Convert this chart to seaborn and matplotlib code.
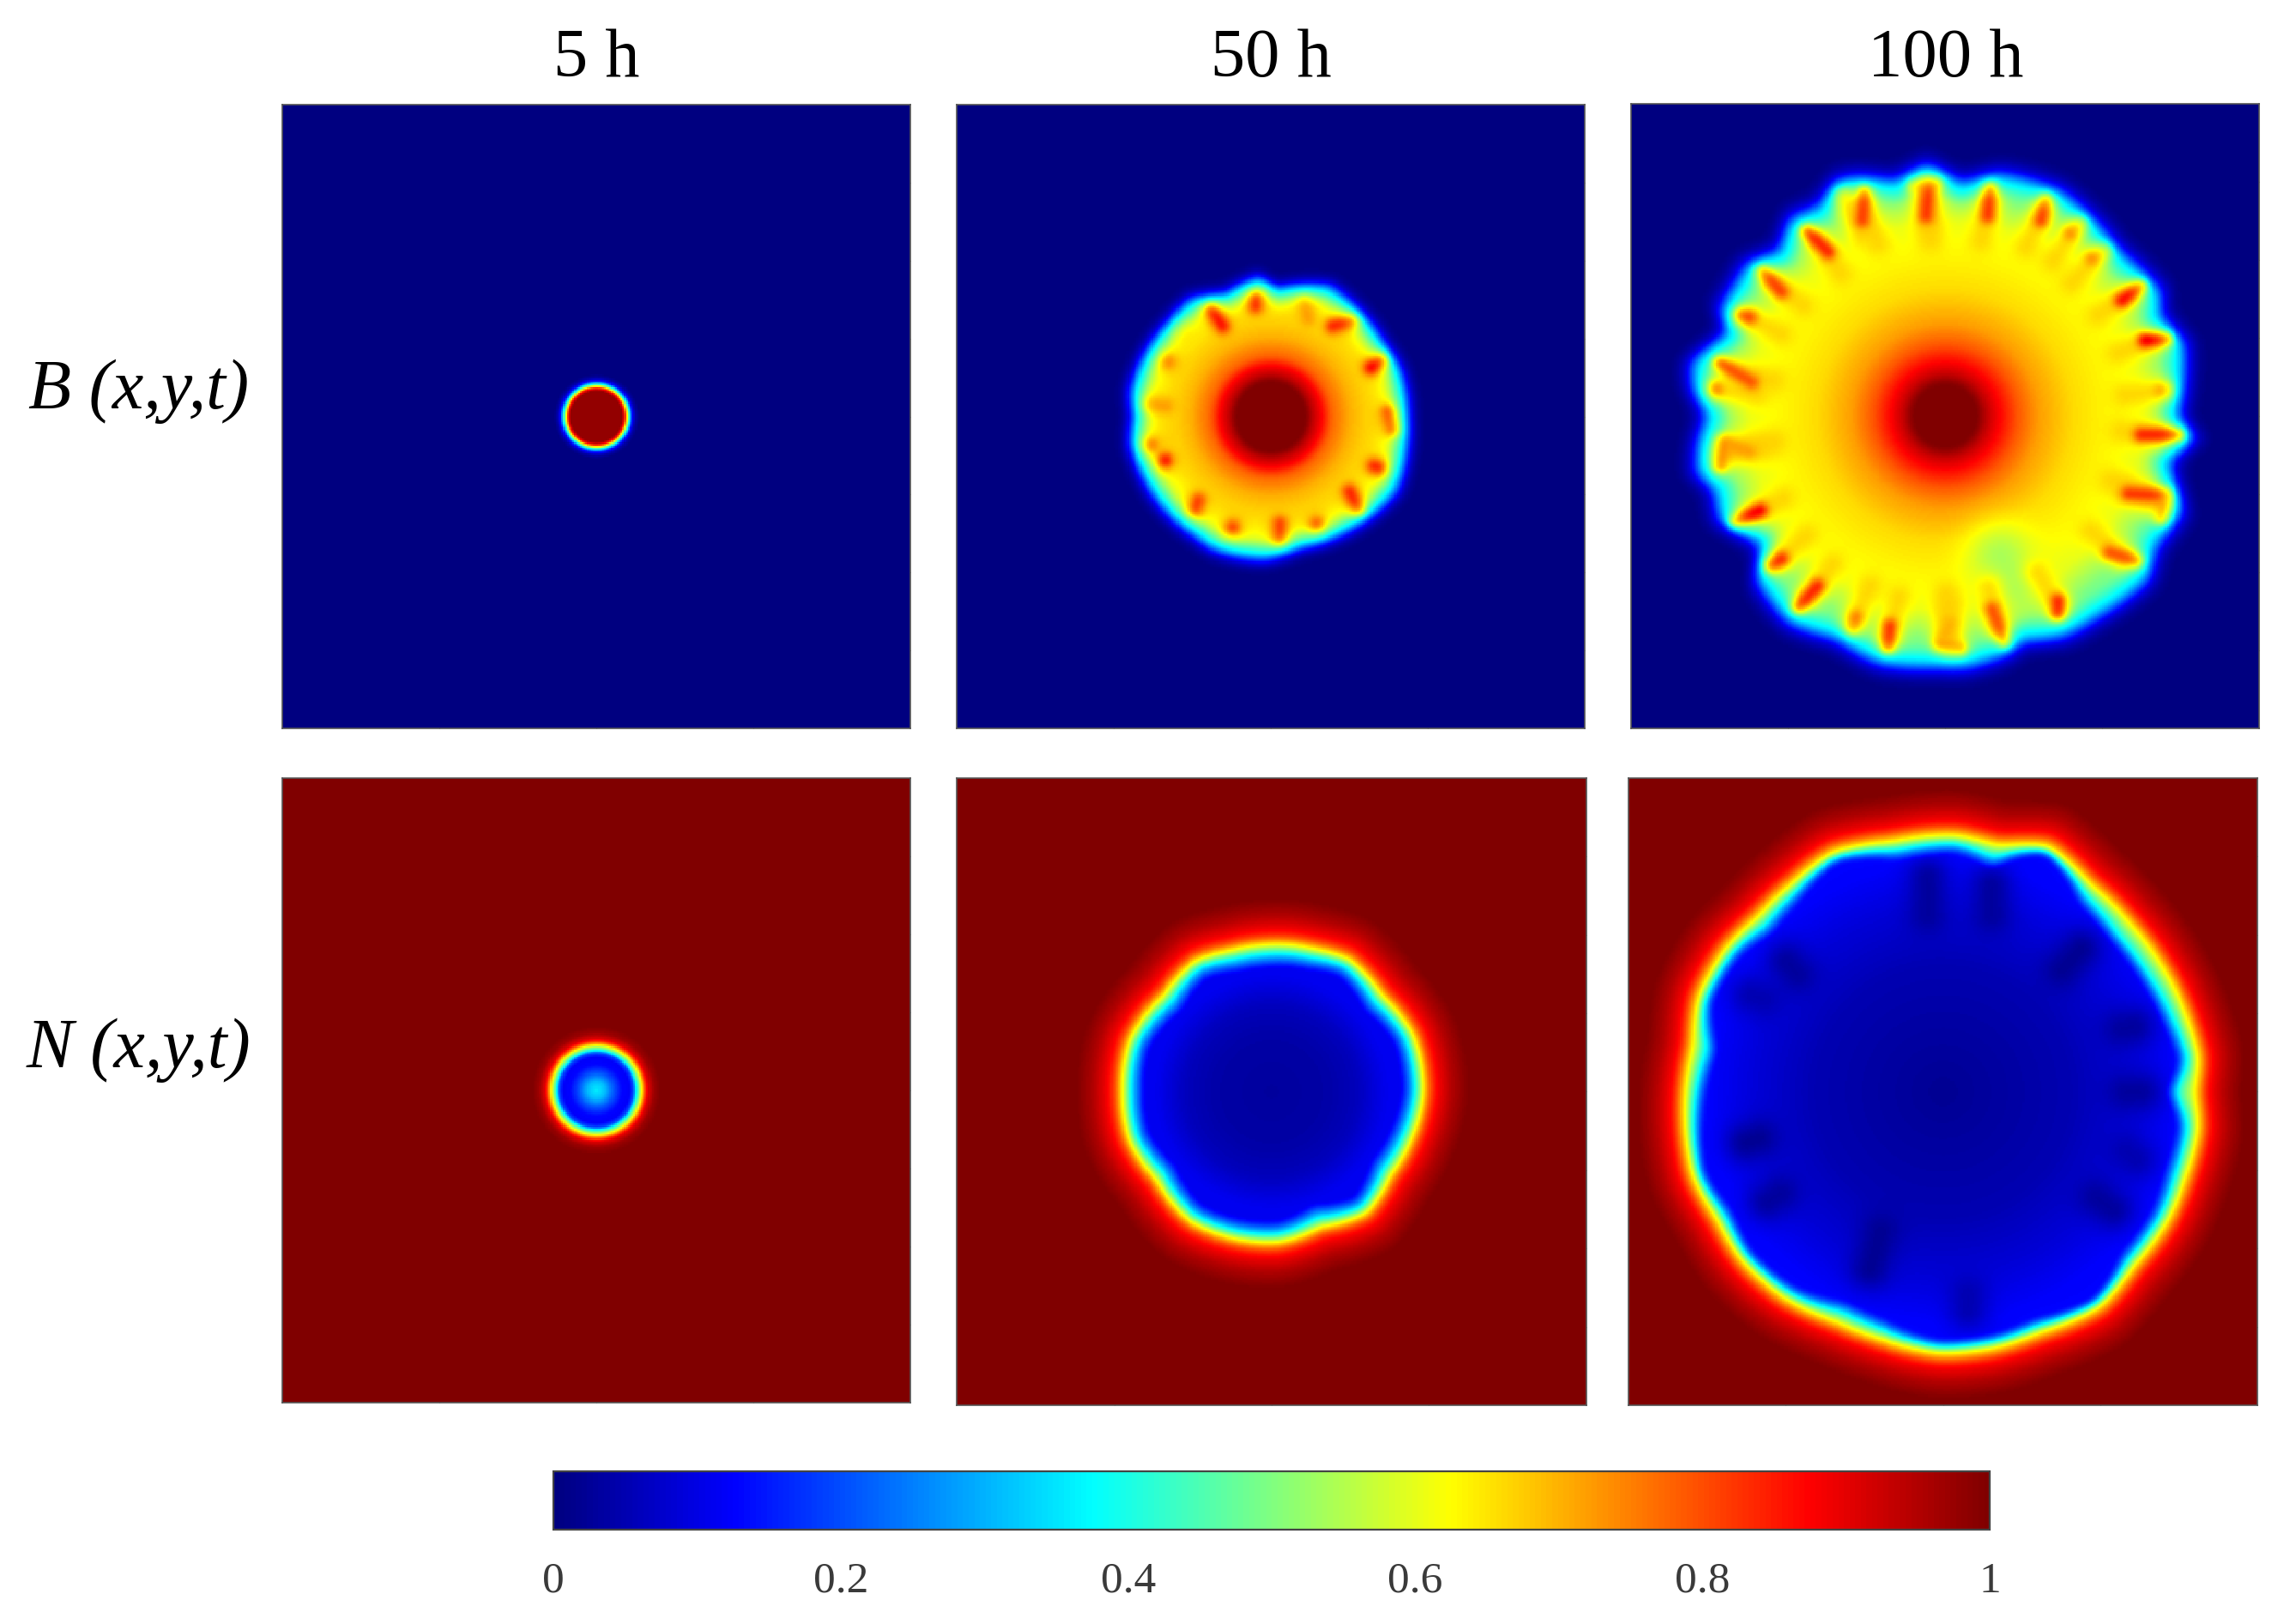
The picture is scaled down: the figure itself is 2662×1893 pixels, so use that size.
import numpy as np
import matplotlib
matplotlib.use("Agg")
import matplotlib.pyplot as plt
from matplotlib.colors import LinearSegmentedColormap
import seaborn as sns

# ---------- text ----------
column_titles = ["5 h", "50 h", "100 h"]
row_labels = ["B (x,y,t)", "N (x,y,t)"]
cbar_ticks = [0, 0.2, 0.4, 0.6, 0.8, 1]
cbar_ticklabels = ["0", "0.2", "0.4", "0.6", "0.8", "1"]

# ---------- colour scale stops ----------
jet_pos = [0, 0.125, 0.375, 0.625, 0.875, 1]
jet_col = [(0, 0, .5), (0, 0, 1), (0, 1, 1), (1, 1, 0), (1, 0, 0), (.5, 0, 0)]

# ---------- 5 h panels: radial profiles (radius as fraction of half panel) ----------
b5_r = [0, 0.082, 0.090, 0.097, 0.105, 0.114, 0.124, 0.136, 1.5]
b5_v = [0.98, 0.98, 0.87, 0.63, 0.38, 0.14, 0.04, 0.0, 0.0]
n5_px = [0, 30, 60, 90, 115, 130, 140, 150, 158, 170, 180, 200, 225, 2000]
n5_v = [0.36, 0.31, 0.21, 0.13, 0.12, 0.20, 0.38, 0.52, 0.63, 0.80, 0.90, 0.97, 1.0, 1.0]

# ---------- 50 h B: front contour (angle deg, radius in px of crop) ----------
b50_ang = [0, 20, 34, 50, 66, 87, 95, 110, 124, 138, 154, 170, 180, 191, 204, 223, 238, 246, 268, 283, 299, 314, 329, 346]
b50_rad = [461, 463, 455, 464, 479, 437, 470, 445, 477, 468, 472, 477, 464, 478, 475, 475, 476, 484, 478, 455, 462, 473, 487, 470]
b50_base_r = [0, 125, 140, 180, 210, 280, 360, 430, 500, 1600]
b50_base_v = [1.0, 1.0, 0.95, 0.87, 0.78, 0.70, 0.655, 0.60, 0.50, 0.50]
b50_hot = [(365, 150, 405, 210, .87), (520, 110, 520, 140, .84), (690, 120, 705, 185, .72),
           (860, 190, 790, 210, .85), (960, 330, 925, 355, .90), (985, 510, 1000, 570, .82),
           (950, 705, 935, 700, .85), (850, 790, 880, 850, .85), (735, 905, 735, 905, .82),
           (605, 900, 605, 955, .82), (440, 915, 440, 915, .82), (320, 820, 310, 850, .82),
           (205, 680, 205, 680, .87), (152, 627, 152, 627, .78), (150, 485, 210, 490, .72),
           (215, 335, 215, 335, .75), (262, 238, 262, 238, .65)]

# ---------- 100 h B ----------
b100_ang = [0, 17, 25, 30, 44, 55, 63, 78, 86, 94, 102, 110, 115, 121, 128, 135, 142, 148, 155, 159, 168, 174, 180, 186,
            193, 198, 205, 215, 221, 233, 244, 255, 268, 275, 285, 289, 298, 308, 321, 328, 338, 348, 355]
b100_rad = [540, 571, 548, 570, 555, 570, 581, 573, 546, 581, 558, 585, 592, 565, 577, 544, 573, 569, 570, 540, 588, 578, 550, 569,
            581, 558, 570, 527, 574, 593, 573, 589, 580, 582, 569, 555, 577, 580, 593, 569, 581, 532, 572]
b100_base_r = [0, 75, 100, 130, 170, 220, 300, 400, 460, 530, 2000]
b100_base_v = [1.0, 1.0, 0.93, 0.87, 0.79, 0.72, 0.66, 0.625, 0.60, 0.50, 0.50]
b100_hot = [(540, 258, 540, 258, .72), (590, 250, 585, 320, .82), (455, 345, 505, 395, .85),
            (705, 235, 760, 230, .75), (740, 240, 735, 310, .83), (885, 240, 880, 310, .83),
            (1018, 270, 1005, 320, .82), (1100, 325, 1075, 350, .75), (1160, 390, 1125, 410, .75),
            (1240, 475, 1195, 510, .88), (1300, 600, 1250, 605, .92), (1300, 725, 1290, 725, .75),
            (1330, 830, 1240, 830, .85), (1300, 975, 1210, 970, .83), (1290, 1030, 1300, 975, .80),
            (1230, 1130, 1165, 1110, .80), (1045, 1225, 1045, 1255, .85), (920, 1325, 890, 1245, .80),
            (770, 1330, 815, 1340, .75), (775, 1320, 790, 1280, .70), (645, 1335, 650, 1285, .83),
            (560, 1290, 570, 1265, .76), (435, 1240, 480, 1190, .85), (370, 1140, 395, 1125, .85),
            (285, 1040, 345, 1010, .90), (250, 905, 260, 850, .75), (260, 850, 320, 870, .72),
            (240, 722, 240, 722, .78), (250, 658, 325, 705, .80), (300, 545, 320, 550, .82),
            (350, 440, 395, 490, .82)]
b100_cool = [(910, 1120, 940, 1190, .54)]

# ---------- 50 h N: contour of the yellow ring ----------
n50_ang = [0, 22, 41, 60, 73, 94, 106, 120, 138, 160, 180, 199, 217, 238, 257, 273, 290, 308, 325, 342]
n50_rad = [529, 532, 511, 537, 521, 514, 514, 530, 505, 527, 521, 525, 506, 535, 530, 527, 503, 538, 507, 515]
n50_base_r = [0, 200, 300, 400, 2000]
n50_base_v = [0.03, 0.04, 0.06, 0.11, 0.11]

# ---------- 100 h N ----------
n100_ang = [0, 7.5, 16.4, 29, 42, 54.5, 66.9, 77.5, 87, 101.5, 114.6, 126.5, 137, 146.5, 159, 169.5, 185, 199, 209.5, 220,
            233, 245, 255.5, 269, 282, 292, 306, 317.5, 330, 340.6, 352]
n100_rad = [589, 604, 598, 594, 593, 601, 635, 598, 610, 606, 626, 608, 601, 613, 616, 596, 608, 620, 610, 619,
            615, 601, 605, 621, 620, 615, 630, 609, 609, 603, 604]
n100_base_r = [0, 300, 450, 550, 2000]
n100_base_v = [0.02, 0.05, 0.09, 0.125, 0.125]
n100_dark = [(735, 250, 735, 340, .03), (885, 270, 885, 340, .03), (1095, 420, 1050, 470, .02), (1220, 605, 1190, 610, .03),
             (1235, 760, 1200, 760, .03), (1225, 920, 1200, 900, .05), (1170, 1040, 1130, 1010, .03),
             (625, 1090, 600, 1180, .02), (830, 1240, 830, 1280, .05), (310, 880, 340, 870, .02),
             (360, 1020, 390, 1000, .03), (320, 530, 350, 540, .05), (405, 450, 430, 480, .03)]

# ---------- edge profiles (distance beyond contour, px of crop -> value/fraction) ----------
b100_edge_d = [-400, -65, -45, -25, 0, 12, 30, 50, 70, 900]
b100_edge_f = [1, 1, .98, .88, .68, .48, .18, .05, 0, 0]
b50_edge_d = [-500, -80, -55, -30, 0, 15, 35, 55, 78, 900]
b50_edge_f = [1, 1, .98, .88, .68, .48, .18, .05, 0, 0]
n50_edge_d = [-75, -50, -30, -15, 0, 25, 50, 100, 160, 900]
n50_edge_v = [.13, .25, .38, .50, .63, .80, .88, .95, 1, 1]
n100_edge_d = [-45, -30, -20, -10, 0, 20, 35, 70, 110, 900]
n100_edge_v = [.13, .25, .38, .50, .63, .80, .88, .95, 1, 1]

N = 340
GRID = (np.arange(N) + 0.5) / N * 2 - 1
U, V = np.meshgrid(GRID, -GRID)
THETA = np.degrees(np.arctan2(V, U)) % 360
RN = np.hypot(U, V)


def contour(ang, rad, amp=1.0):
    t = np.arange(0, 360, 0.5)
    r = np.interp(t, ang, rad, period=360)
    k = np.exp(-0.5 * (np.arange(-8, 9) / 3.0) ** 2)
    k /= k.sum()
    r = np.convolve(np.r_[r[-8:], r, r[:8]], k, mode="valid")
    r = r.mean() + amp * (r - r.mean())
    return np.interp(THETA, t, r, period=360)


def seg_dist(px, py, s):
    x1, y1, x2, y2 = s[:4]
    dx, dy = x2 - x1, y2 - y1
    l2 = dx * dx + dy * dy
    t = np.zeros_like(px) if l2 == 0 else np.clip(((px - x1) * dx + (py - y1) * dy) / l2, 0, 1)
    return np.hypot(px - (x1 + t * dx), py - (y1 + t * dy))


def blur(z, s=1.2):
    k = np.exp(-0.5 * (np.arange(-4, 5) / s) ** 2)
    k /= k.sum()
    pad = np.pad(z, 4, mode="edge")
    pad = np.apply_along_axis(lambda a: np.convolve(a, k, mode="same"), 0, pad)
    pad = np.apply_along_axis(lambda a: np.convolve(a, k, mode="same"), 1, pad)
    return pad[4:-4, 4:-4]


def bacteria(cx, cy, hx, hy, ang, rad, base_r, base_v, edge_d, edge_f, hot, cool, sc, halo, amp):
    px, py = cx + U * hx, cy - V * hy
    r = np.hypot(px - cx, py - cy)
    z = np.interp(r, base_r, base_v)
    for s in cool:
        d = seg_dist(px, py, s)
        z = z + (s[4] - z) * np.exp(-0.5 * (d / (55 * sc)) ** 2)
    for s in hot:
        mx, my = (s[0] + s[2]) / 2, (s[1] + s[3]) / 2
        stem = (mx, my, cx + 0.82 * (mx - cx), cy + 0.82 * (my - cy))
        d = seg_dist(px, py, stem)
        z = z + np.clip(min(0.67, s[4]) - z, 0, None) * 0.9 * np.exp(-0.5 * (d / (halo * sc)) ** 2)
    for s in hot:
        d = seg_dist(px, py, s)
        z = z + np.clip(s[4] - z, 0, None) * np.exp(-0.5 * (d / (13 * sc)) ** 2)
    return blur(z * np.interp(r - contour(ang, rad, amp), edge_d, edge_f))


def nutrient(cx, cy, hx, hy, ang, rad, base_r, base_v, edge_d, edge_v, dark, sc, extra):
    px, py = cx + U * hx, cy - V * hy
    r = np.hypot(px - cx, py - cy)
    r0 = contour(ang, rad)
    d = r - r0
    w = np.clip(-d / (40 * sc), 0, 1)
    eff = d - extra * (r0 - np.mean(rad)) * w
    inner = np.interp(r, base_r, base_v)
    for s in dark:
        q = seg_dist(px, py, s)
        inner = inner + (s[4] - inner) * np.exp(-0.5 * (q / (34 * sc)) ** 2)
    outer = np.interp(eff, edge_d, edge_v)
    z = np.where(eff < edge_d[0], inner, np.maximum(outer, inner))
    return blur(z)


fields = [
    [np.interp(RN, b5_r, b5_v),
     bacteria(574, 527, 1098, 1091, b50_ang, b50_rad, b50_base_r, b50_base_v, b50_edge_d, b50_edge_f, b50_hot, [], 1.5, 26, 1.3),
     bacteria(780, 785, 737, 743, b100_ang, b100_rad, b100_base_r, b100_base_v, b100_edge_d, b100_edge_f, b100_hot, b100_cool, 1.0, 24, 1.3)],
    [np.interp(RN * 1098, n5_px, n5_v),
     nutrient(846, 638, 1098, 1098, n50_ang, n50_rad, n50_base_r, n50_base_v, n50_edge_d, n50_edge_v, [], 1.5, 0.4),
     nutrient(771, 759, 738, 746, n100_ang, n100_rad, n100_base_r, n100_base_v, n100_edge_d, n100_edge_v, n100_dark, 1.0, 1.2)],
]

# ---------- layout (shrunk-view pixels) ----------
W, H = 1568.0, 1115.0
boxes = [[(194, 72, 625, 500), (657, 72, 1088, 500), (1120, 71, 1551, 500)],
         [(194, 534, 625, 963), (657, 534, 1089, 965), (1118, 534, 1550, 965)]]
cbar_box = (380, 1010, 1366, 1050)


def rect(b):
    return [b[0] / W, 1 - b[3] / H, (b[2] - b[0]) / W, (b[3] - b[1]) / H]


sns.set_theme(style="white")
plt.rcParams["font.family"] = ["Liberation Serif", "DejaVu Serif"]

cmap = LinearSegmentedColormap.from_list("matlab_jet", list(zip(jet_pos, jet_col)), N=256)
fig = plt.figure(figsize=(26.62, 18.93), dpi=100, facecolor="white")
cax = fig.add_axes(rect(cbar_box))
first = True
for i, row in enumerate(fields):
    for j, z in enumerate(row):
        ax = fig.add_axes(rect(boxes[i][j]))
        sns.heatmap(z, ax=ax, cmap=cmap, vmin=0, vmax=1, square=False, xticklabels=False, yticklabels=False,
                    cbar=first, cbar_ax=cax if first else None,
                    cbar_kws={"orientation": "horizontal", "ticks": cbar_ticks} if first else None,
                    rasterized=True)
        if first:
            cbar = ax.collections[0].colorbar
            cbar.ax.set_xticklabels(cbar_ticklabels, fontsize=37, color="#3a3a3a")
            cbar.ax.tick_params(axis="x", direction="in", length=12, width=1.2, color="#222222", pad=27, bottom=True)
            cbar.outline.set_visible(True)
            cbar.outline.set_edgecolor("#444444")
            cbar.outline.set_linewidth(1.6)
            first = False
        for sp in ax.spines.values():
            sp.set_visible(True)
            sp.set_edgecolor("#555555")
            sp.set_linewidth(1.2)
        ax.set_xticks([N * k / 4 for k in (1, 2, 3)])
        ax.set_yticks([N * k / 8 for k in range(1, 8)])
        ax.set_xticklabels([])
        ax.set_yticklabels([])
        ax.tick_params(axis="both", direction="in", length=3, width=0.8, color="#555555",
                       top=True, bottom=True, left=True, right=True)

for j, t in enumerate(column_titles):
    b = boxes[0][j]
    fig.text((b[0] + b[2]) / 2 / W, 1 - 41 / H, t, ha="center", va="center", fontsize=58, color="black")
for y, t in zip((269, 721), row_labels):
    fig.text(95 / W, 1 - y / H, t, ha="center", va="center", fontsize=59, style="italic", color="black")

fig.savefig("out.png", dpi=100, facecolor="white")
